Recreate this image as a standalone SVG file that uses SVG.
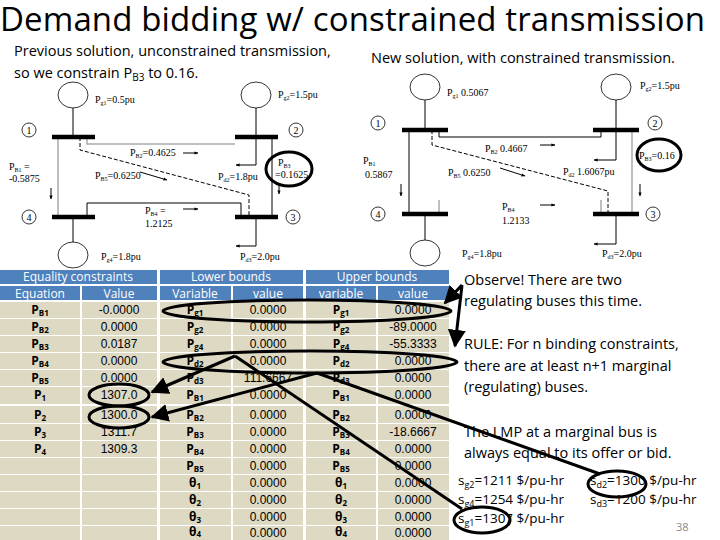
<svg xmlns="http://www.w3.org/2000/svg" width="720" height="540" viewBox="0 0 720 540">
<defs>
<style>
.t{font-family:"Open Sans","Liberation Sans",sans-serif;fill:#000}
.d{font-family:"Liberation Serif",serif;font-size:10px;fill:#000}
.bar{stroke:#000;stroke-width:4.5}
.ln{stroke:#000;stroke-width:1;fill:none}
.gl{stroke:#aaa;stroke-width:1.5;fill:none}
.dash{stroke:#000;stroke-width:1;fill:none;stroke-dasharray:4 2}
.gen{fill:#fff;stroke:#000;stroke-width:0.8}
.bc{fill:#fff;stroke:#000;stroke-width:0.8}
.hd{fill:#4F81BD}
.ht{font-family:"Open Sans","Liberation Sans",sans-serif;font-size:12px;fill:#fff;text-anchor:middle}
.ct{font-family:"Liberation Sans",sans-serif;font-size:12px;fill:#000;text-anchor:middle}
.cv{font-family:"Open Sans","Liberation Sans",sans-serif;font-size:12px;font-weight:bold;fill:#000;text-anchor:middle}
.an{stroke:#000;stroke-width:3;fill:none}
</style>
<marker id="ah" viewBox="0 0 10 10" refX="9" refY="5" markerWidth="6" markerHeight="6" orient="auto"><path d="M0,0L10,5L0,10z" fill="#000"/></marker>
<marker id="sa" viewBox="0 0 10 10" refX="9" refY="5" markerWidth="4" markerHeight="4" orient="auto"><path d="M0,1L10,5L0,9z" fill="#000"/></marker>
</defs>
<rect width="720" height="540" fill="#fff"/>
<text class="t" x="0" y="31" font-size="33" textLength="705">Demand bidding w/ constrained transmission</text>
<text class="t" x="14" y="56" font-size="14.5">Previous solution, unconstrained transmission,</text>
<text class="t" x="14" y="78" font-size="14.5">so we constrain P<tspan font-size="10" dy="3">B3</tspan><tspan dy="-3"> to 0.16.</tspan></text>
<text class="t" x="371" y="63" font-size="14.5">New solution, with constrained transmission.</text>

<g id="left-diagram">
<g id="connectors-left">
<path class="gl" d="M58,137V217"/>
<path class="gl" d="M87,137V144H235"/>
<path class="ln" d="M272,137V217"/>
<path class="dash" d="M80,137V150L249,195V217"/>
<path class="ln" d="M87,217V203H241V217"/>
<path class="ln" d="M73,108V137M256,108V137M73,217V242"/>
<path class="ln" d="M256,137V165H236" marker-end="url(#sa)"/>
<path class="ln" d="M256,217V246H236" marker-end="url(#sa)"/>
<path class="ln" d="M183,153H198" marker-end="url(#sa)"/>
<path class="ln" d="M51,188V199" marker-end="url(#sa)"/>
<path class="ln" d="M140,172L167,180" marker-end="url(#sa)"/>
<path class="ln" d="M279,183V194" marker-end="url(#sa)"/>
<path class="ln" d="M183,209H198" marker-end="url(#sa)"/>
</g>
<g id="l-bus1"><path class="bar" d="M52,137H95"/><circle class="bc" cx="29" cy="130" r="7"/><text class="d" x="29" y="134" text-anchor="middle">1</text></g>
<g id="l-bus2"><path class="bar" d="M235,137H278"/><circle class="bc" cx="296" cy="130" r="7"/><text class="d" x="296" y="134" text-anchor="middle">2</text></g>
<g id="l-bus3"><path class="bar" d="M235,217H278"/><circle class="bc" cx="293" cy="217" r="7"/><text class="d" x="293" y="221" text-anchor="middle">3</text></g>
<g id="l-bus4"><path class="bar" d="M52,217H95"/><circle class="bc" cx="29" cy="217" r="7"/><text class="d" x="29" y="221" text-anchor="middle">4</text></g>
<g id="l-gens">
<ellipse class="gen" cx="73" cy="95" rx="15" ry="13"/><ellipse class="gen" cx="256" cy="95" rx="15" ry="13"/><ellipse class="gen" cx="73" cy="255" rx="15" ry="13"/>
</g>
<g id="l-labels">
<text class="d" x="95" y="103">P<tspan font-size="6" dy="2">g1</tspan><tspan dy="-2">=0.5pu</tspan></text>
<text class="d" x="278" y="98">P<tspan font-size="6" dy="2">g2</tspan><tspan dy="-2">=1.5pu</tspan></text>
<text class="d" x="130" y="156">P<tspan font-size="6" dy="2">B2</tspan><tspan dy="-2">=0.4625</tspan></text>
<text class="d" x="9" y="170">P<tspan font-size="6" dy="2">B1</tspan><tspan dy="-2"> =</tspan></text>
<text class="d" x="9" y="182">-0.5875</text>
<text class="d" x="95" y="179">P<tspan font-size="6" dy="2">B5</tspan><tspan dy="-2">=0.6250</tspan></text>
<text class="d" x="218" y="180">P<tspan font-size="6" dy="2">d2</tspan><tspan dy="-2">=1.8pu</tspan></text>
<text class="d" x="278" y="166">P<tspan font-size="6" dy="2">B3</tspan></text>
<text class="d" x="275" y="178">=0.1625</text>
<text class="d" x="145" y="214">P<tspan font-size="6" dy="2">B4</tspan><tspan dy="-2"> =</tspan></text>
<text class="d" x="145" y="227">1.2125</text>
<text class="d" x="101" y="260">P<tspan font-size="6" dy="2">g4</tspan><tspan dy="-2">=1.8pu</tspan></text>
<text class="d" x="240" y="260">P<tspan font-size="6" dy="2">d3</tspan><tspan dy="-2">=2.0pu</tspan></text>
</g>
<ellipse class="an" cx="289" cy="169" rx="23" ry="17"/>
</g>

<g id="right-diagram">
<g id="connectors-right">
<path class="ln" d="M409,130V214"/>
<path class="ln" d="M439,130V137H601V130"/>
<path class="gl" d="M632,130V214"/>
<path class="dash" d="M432,130V145L608,191V214"/>
<path class="gl" d="M439,200V214M601,200V214"/>
<path class="ln" d="M425,100V130M616,100V130M425,214V240"/>
<path class="ln" d="M616,130V160H594" marker-end="url(#sa)"/>
<path class="ln" d="M616,214V244H594" marker-end="url(#sa)"/>
<path class="ln" d="M540,145H555" marker-end="url(#sa)"/>
<path class="ln" d="M401,184V196" marker-end="url(#sa)"/>
<path class="ln" d="M500,168L525,176" marker-end="url(#sa)"/>
<path class="ln" d="M640,184V196" marker-end="url(#sa)"/>
<path class="ln" d="M540,205H555" marker-end="url(#sa)"/>
</g>
<g id="r-bus1"><path class="bar" d="M402,130H448"/><circle class="bc" cx="378" cy="123" r="7"/><text class="d" x="378" y="127" text-anchor="middle">1</text></g>
<g id="r-bus2"><path class="bar" d="M593,130H639"/><circle class="bc" cx="655" cy="123" r="7"/><text class="d" x="655" y="127" text-anchor="middle">2</text></g>
<g id="r-bus3"><path class="bar" d="M593,214H639"/><circle class="bc" cx="653" cy="214" r="7"/><text class="d" x="653" y="218" text-anchor="middle">3</text></g>
<g id="r-bus4"><path class="bar" d="M402,214H448"/><circle class="bc" cx="378" cy="214" r="7"/><text class="d" x="378" y="218" text-anchor="middle">4</text></g>
<g id="r-gens">
<ellipse class="gen" cx="425" cy="87" rx="15" ry="13"/><ellipse class="gen" cx="616" cy="87" rx="15" ry="13"/><ellipse class="gen" cx="425" cy="253" rx="15" ry="13"/>
</g>
<g id="r-labels">
<text class="d" x="447" y="96">P<tspan font-size="6" dy="2">g1</tspan><tspan dy="-2"> 0.5067</tspan></text>
<text class="d" x="640" y="89">P<tspan font-size="6" dy="2">g2</tspan><tspan dy="-2">=1.5pu</tspan></text>
<text class="d" x="485" y="152">P<tspan font-size="6" dy="2">B2</tspan><tspan dy="-2"> 0.4667</tspan></text>
<text class="d" x="363" y="164">P<tspan font-size="6" dy="2">B1</tspan></text>
<text class="d" x="365" y="178">0.5867</text>
<text class="d" x="448" y="176">P<tspan font-size="6" dy="2">B5</tspan><tspan dy="-2"> 0.6250</tspan></text>
<text class="d" x="563" y="175">P<tspan font-size="6" dy="2">d2</tspan><tspan dy="-2"> 1.6067pu</tspan></text>
<text class="d" x="639" y="159">P<tspan font-size="6" dy="2">B3</tspan><tspan dy="-2">=0.16</tspan></text>
<text class="d" x="502" y="210">P<tspan font-size="6" dy="2">B4</tspan></text>
<text class="d" x="502" y="224">1.2133</text>
<text class="d" x="462" y="257">P<tspan font-size="6" dy="2">g4</tspan><tspan dy="-2">=1.8pu</tspan></text>
<text class="d" x="602" y="257">P<tspan font-size="6" dy="2">d3</tspan><tspan dy="-2">=2.0pu</tspan></text>
</g>
<ellipse class="an" cx="659" cy="155" rx="22" ry="16"/>
</g>

<g id="table">
<rect class="hd" x="0" y="270" width="157" height="14"/>
<rect class="hd" x="160" y="270" width="143" height="14"/>
<rect class="hd" x="306" y="270" width="143" height="14"/>
<rect class="hd" x="0" y="286" width="80" height="14"/><rect class="hd" x="82" y="286" width="75" height="14"/>
<rect class="hd" x="160" y="286" width="71" height="14"/><rect class="hd" x="233" y="286" width="70" height="14"/>
<rect class="hd" x="306" y="286" width="70" height="14"/><rect class="hd" x="378" y="286" width="71" height="14"/>
<text class="ht" x="78" y="281">Equality constraints</text>
<text class="ht" x="231" y="281">Lower bounds</text>
<text class="ht" x="377" y="281">Upper bounds</text>
<text class="ht" x="40" y="298">Equation</text><text class="ht" x="119" y="298">Value</text>
<text class="ht" x="195" y="298">Variable</text><text class="ht" x="268" y="298">value</text>
<text class="ht" x="341" y="298">variable</text><text class="ht" x="413" y="298">value</text>
<g id="rows">
<g fill="#DDD9C3">
<rect x="0" y="302" width="80" height="16"/><rect x="82" y="302" width="75" height="16"/><rect x="160" y="302" width="71" height="16"/><rect x="233" y="302" width="70" height="16"/><rect x="306" y="302" width="70" height="16"/><rect x="378" y="302" width="71" height="16"/>
<rect x="0" y="319" width="80" height="16"/><rect x="82" y="319" width="75" height="16"/><rect x="160" y="319" width="71" height="16"/><rect x="233" y="319" width="70" height="16"/><rect x="306" y="319" width="70" height="16"/><rect x="378" y="319" width="71" height="16"/>
<rect x="0" y="336" width="80" height="16"/><rect x="82" y="336" width="75" height="16"/><rect x="160" y="336" width="71" height="16"/><rect x="233" y="336" width="70" height="16"/><rect x="306" y="336" width="70" height="16"/><rect x="378" y="336" width="71" height="16"/>
<rect x="0" y="353" width="80" height="16"/><rect x="82" y="353" width="75" height="16"/><rect x="160" y="353" width="71" height="16"/><rect x="233" y="353" width="70" height="16"/><rect x="306" y="353" width="70" height="16"/><rect x="378" y="353" width="71" height="16"/>
<rect x="0" y="370" width="80" height="16"/><rect x="82" y="370" width="75" height="16"/><rect x="160" y="370" width="71" height="16"/><rect x="233" y="370" width="70" height="16"/><rect x="306" y="370" width="70" height="16"/><rect x="378" y="370" width="71" height="16"/>
<rect x="0" y="387" width="80" height="17"/><rect x="82" y="387" width="75" height="17"/><rect x="160" y="387" width="71" height="17"/><rect x="233" y="387" width="70" height="17"/><rect x="306" y="387" width="70" height="17"/><rect x="378" y="387" width="71" height="17"/>
<rect x="0" y="406" width="80" height="17"/><rect x="82" y="406" width="75" height="17"/><rect x="160" y="406" width="71" height="17"/><rect x="233" y="406" width="70" height="17"/><rect x="306" y="406" width="70" height="17"/><rect x="378" y="406" width="71" height="17"/>
<rect x="0" y="424" width="80" height="16"/><rect x="82" y="424" width="75" height="16"/><rect x="160" y="424" width="71" height="16"/><rect x="233" y="424" width="70" height="16"/><rect x="306" y="424" width="70" height="16"/><rect x="378" y="424" width="71" height="16"/>
<rect x="0" y="441" width="80" height="16"/><rect x="82" y="441" width="75" height="16"/><rect x="160" y="441" width="71" height="16"/><rect x="233" y="441" width="70" height="16"/><rect x="306" y="441" width="70" height="16"/><rect x="378" y="441" width="71" height="16"/>
<rect x="0" y="458" width="80" height="16"/><rect x="82" y="458" width="75" height="16"/><rect x="160" y="458" width="71" height="16"/><rect x="233" y="458" width="70" height="16"/><rect x="306" y="458" width="70" height="16"/><rect x="378" y="458" width="71" height="16"/>
<rect x="0" y="475" width="80" height="16"/><rect x="82" y="475" width="75" height="16"/><rect x="160" y="475" width="71" height="16"/><rect x="233" y="475" width="70" height="16"/><rect x="306" y="475" width="70" height="16"/><rect x="378" y="475" width="71" height="16"/>
<rect x="0" y="492" width="80" height="16"/><rect x="82" y="492" width="75" height="16"/><rect x="160" y="492" width="71" height="16"/><rect x="233" y="492" width="70" height="16"/><rect x="306" y="492" width="70" height="16"/><rect x="378" y="492" width="71" height="16"/>
<rect x="0" y="509" width="80" height="16"/><rect x="82" y="509" width="75" height="16"/><rect x="160" y="509" width="71" height="16"/><rect x="233" y="509" width="70" height="16"/><rect x="306" y="509" width="70" height="16"/><rect x="378" y="509" width="71" height="16"/>
<rect x="0" y="526" width="80" height="14"/><rect x="82" y="526" width="75" height="14"/><rect x="160" y="526" width="71" height="14"/><rect x="233" y="526" width="70" height="14"/><rect x="306" y="526" width="70" height="14"/><rect x="378" y="526" width="71" height="14"/>
</g>
<g class="cv">
<text x="40" y="314">P<tspan font-size="8" dy="2">B1</tspan></text><text x="40" y="331">P<tspan font-size="8" dy="2">B2</tspan></text><text x="40" y="348">P<tspan font-size="8" dy="2">B3</tspan></text><text x="40" y="365">P<tspan font-size="8" dy="2">B4</tspan></text><text x="40" y="382">P<tspan font-size="8" dy="2">B5</tspan></text><text x="40" y="399">P<tspan font-size="8" dy="2">1</tspan></text><text x="40" y="419">P<tspan font-size="8" dy="2">2</tspan></text><text x="40" y="436">P<tspan font-size="8" dy="2">3</tspan></text><text x="40" y="453">P<tspan font-size="8" dy="2">4</tspan></text>
<text x="195" y="314">P<tspan font-size="8" dy="2">g1</tspan></text><text x="195" y="331">P<tspan font-size="8" dy="2">g2</tspan></text><text x="195" y="348">P<tspan font-size="8" dy="2">g4</tspan></text><text x="195" y="365">P<tspan font-size="8" dy="2">d2</tspan></text><text x="195" y="382">P<tspan font-size="8" dy="2">d3</tspan></text><text x="195" y="399">P<tspan font-size="8" dy="2">B1</tspan></text><text x="195" y="419">P<tspan font-size="8" dy="2">B2</tspan></text><text x="195" y="436">P<tspan font-size="8" dy="2">B3</tspan></text><text x="195" y="453">P<tspan font-size="8" dy="2">B4</tspan></text><text x="195" y="470">P<tspan font-size="8" dy="2">B5</tspan></text><text x="195" y="487">θ<tspan font-size="8" dy="2">1</tspan></text><text x="195" y="504">θ<tspan font-size="8" dy="2">2</tspan></text><text x="195" y="521">θ<tspan font-size="8" dy="2">3</tspan></text><text x="195" y="536">θ<tspan font-size="8" dy="1">4</tspan></text>
<text x="341" y="314">P<tspan font-size="8" dy="2">g1</tspan></text><text x="341" y="331">P<tspan font-size="8" dy="2">g2</tspan></text><text x="341" y="348">P<tspan font-size="8" dy="2">g4</tspan></text><text x="341" y="365">P<tspan font-size="8" dy="2">d2</tspan></text><text x="341" y="382">P<tspan font-size="8" dy="2">d3</tspan></text><text x="341" y="399">P<tspan font-size="8" dy="2">B1</tspan></text><text x="341" y="419">P<tspan font-size="8" dy="2">B2</tspan></text><text x="341" y="436">P<tspan font-size="8" dy="2">B3</tspan></text><text x="341" y="453">P<tspan font-size="8" dy="2">B4</tspan></text><text x="341" y="470">P<tspan font-size="8" dy="2">B5</tspan></text><text x="341" y="487">θ<tspan font-size="8" dy="2">1</tspan></text><text x="341" y="504">θ<tspan font-size="8" dy="2">2</tspan></text><text x="341" y="521">θ<tspan font-size="8" dy="2">3</tspan></text><text x="341" y="536">θ<tspan font-size="8" dy="1">4</tspan></text>
</g>
<g class="ct">
<text x="119" y="314">-0.0000</text><text x="119" y="331">0.0000</text><text x="119" y="348">0.0187</text><text x="119" y="365">0.0000</text><text x="119" y="382">0.0000</text><text x="119" y="399">1307.0</text><text x="119" y="419">1300.0</text><text x="119" y="436">1311.7</text><text x="119" y="453">1309.3</text>
<text x="268" y="314">0.0000</text><text x="268" y="331">0.0000</text><text x="268" y="348">0.0000</text><text x="268" y="365">0.0000</text><text x="268" y="382">111.6667</text><text x="268" y="399">0.0000</text><text x="268" y="419">0.0000</text><text x="268" y="436">0.0000</text><text x="268" y="453">0.0000</text><text x="268" y="470">0.0000</text><text x="268" y="487">0.0000</text><text x="268" y="504">0.0000</text><text x="268" y="521">0.0000</text><text x="268" y="537">0.0000</text>
<text x="413" y="314">0.0000</text><text x="413" y="331">-89.0000</text><text x="413" y="348">-55.3333</text><text x="413" y="365">0.0000</text><text x="413" y="382">0.0000</text><text x="413" y="399">0.0000</text><text x="413" y="419">0.0000</text><text x="413" y="436">-18.6667</text><text x="413" y="453">0.0000</text><text x="413" y="470">0.0000</text><text x="413" y="487">0.0000</text><text x="413" y="504">0.0000</text><text x="413" y="521">0.0000</text><text x="413" y="537">0.0000</text>
</g>
</g>
</g>

<g id="notes">
<text class="t" x="464" y="285" font-size="14.5">Observe! There are two</text>
<text class="t" x="464" y="306" font-size="14.5">regulating buses this time.</text>
<text class="t" x="464" y="349" font-size="14.5">RULE: For n binding constraints,</text>
<text class="t" x="464" y="371" font-size="14.5">there are at least n+1 marginal</text>
<text class="t" x="464" y="392" font-size="14.5">(regulating) buses.</text>
<text class="t" x="464" y="437" font-size="14.5">The LMP at a marginal bus is</text>
<text class="t" x="464" y="458" font-size="14.5">always equal to its offer or bid.</text>
<text class="t" x="458" y="485" font-size="13.5">s<tspan font-size="9" dy="3">g2</tspan><tspan dy="-3">=1211 $/pu-hr</tspan></text>
<text class="t" x="458" y="504" font-size="13.5">s<tspan font-size="9" dy="3">g4</tspan><tspan dy="-3">=1254 $/pu-hr</tspan></text>
<text class="t" x="458" y="523" font-size="13.5">s<tspan font-size="9" dy="3">g1</tspan><tspan dy="-3">=1307 $/pu-hr</tspan></text>
<text class="t" x="590" y="485" font-size="13.5">s<tspan font-size="9" dy="3">d2</tspan><tspan dy="-3">=1300 $/pu-hr</tspan></text>
<text class="t" x="590" y="504" font-size="13.5">s<tspan font-size="9" dy="3">d3</tspan><tspan dy="-3">=1200 $/pu-hr</tspan></text>
<text class="t" x="676" y="531" font-size="11" style="fill:#888">38</text>
</g>

<g id="annotations">
<ellipse class="an" cx="307" cy="311" rx="144" ry="11"/>
<ellipse class="an" cx="310" cy="362" rx="147" ry="11"/>
<ellipse class="an" cx="119" cy="395" rx="30" ry="11"/>
<ellipse class="an" cx="119" cy="417" rx="30" ry="11"/>
<ellipse class="an" cx="482" cy="520" rx="28" ry="13"/>
<ellipse class="an" cx="617" cy="484" rx="29" ry="13"/>
<path class="an" d="M462,285L445,303" marker-end="url(#ah)"/>
<path class="an" d="M462,285L455,346" marker-end="url(#ah)"/>
<path class="an" d="M235,356L152,392" marker-end="url(#ah)"/>
<path class="an" d="M317,373L152,417" marker-end="url(#ah)"/>
<path class="an" d="M235,356L462,509"/>
<path class="an" d="M317,373L600,474"/>
</g>
</svg>
